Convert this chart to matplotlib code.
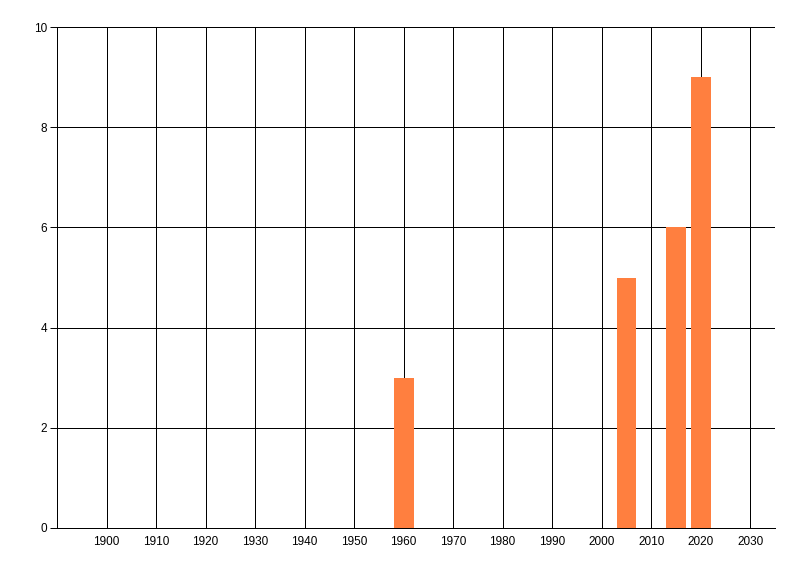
import matplotlib
matplotlib.use("Agg")
import matplotlib.pyplot as plt

plt.rcParams['font.family'] = ['Liberation Sans', 'DejaVu Sans']

years = [1960, 2005, 2015, 2020]
values = [3, 5, 6, 9]
xticks = list(range(1900, 2031, 10))
yticks = [0, 2, 4, 6, 8, 10]

fig = plt.figure(figsize=(8, 5.76), dpi=100)
ax = fig.add_axes([57/800, 48/576, (775-57)/800, (528-27)/576])
ax.set_axisbelow(True)
ax.bar(years, values, width=4, color="#FF7F3F", linewidth=0, antialiased=False, zorder=3)
ax.set_xlim(1890, 2035)
ax.set_ylim(0, 10)
ax.set_xticks(xticks)
ax.set_yticks(yticks)
ax.grid(True, color="black", linewidth=0.5, antialiased=False)
for s in ["top", "right"]:
    ax.spines[s].set_visible(False)
ax.spines["left"].set_linewidth(0.5)
ax.spines["left"].set_antialiased(False)
ax.spines["bottom"].set_linewidth(0.5)
ax.spines["bottom"].set_antialiased(False)
ax.tick_params(axis="x", length=0, pad=6, labelsize=8.5)
ax.tick_params(axis="y", length=5, width=0.7, pad=2, labelsize=8.5)
fig.savefig("out.png", dpi=100)
